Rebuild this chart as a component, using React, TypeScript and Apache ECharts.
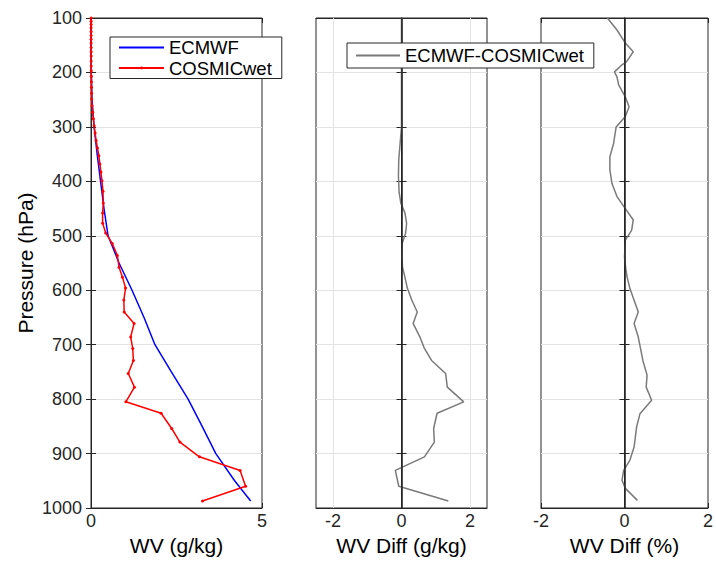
import React, { useEffect, useRef } from "react";
import * as echarts from "echarts";

// ---------- data ----------
const pressureTicks = [100, 200, 300, 400, 500, 600, 700, 800, 900, 1000];

const ecmwfP = [100, 150, 200, 250, 300, 350, 400, 450, 500, 550, 600, 650, 700, 750, 800, 850, 900, 950, 987];
const ecmwfWV = [0.002, 0.003, 0.01, 0.03, 0.09, 0.18, 0.28, 0.38, 0.5, 0.82, 1.2, 1.55, 1.87, 2.35, 2.84, 3.25, 3.65, 4.2, 4.67];

const cosmicP = [100, 106, 112, 118, 125, 132, 139, 146, 154, 162, 170, 179, 188, 197, 207, 217, 227, 238, 249, 261, 273, 285, 298, 311, 325, 339, 353, 368, 383, 399, 418, 440, 458, 477, 495, 514, 536, 558, 576, 596, 618, 640, 661, 686, 707, 729, 753, 778, 805, 826, 854, 879, 906, 931, 960, 987];
const cosmicWV = [0.003, 0.003, 0.003, 0.003, 0.003, 0.003, 0.003, 0.003, 0.004, 0.004, 0.005, 0.005, 0.006, 0.007, 0.009, 0.011, 0.013, 0.016, 0.02, 0.03, 0.05, 0.07, 0.09, 0.12, 0.15, 0.19, 0.23, 0.26, 0.29, 0.32, 0.35, 0.36, 0.34, 0.34, 0.43, 0.62, 0.77, 0.82, 0.92, 1.01, 0.96, 0.97, 1.26, 1.16, 1.22, 1.24, 1.09, 1.27, 1.02, 2.05, 2.36, 2.6, 3.17, 4.36, 4.52, 3.26];

const diffP = [100, 150, 200, 250, 300, 330, 360, 390, 420, 440, 458, 477, 495, 514, 536, 558, 576, 596, 618, 640, 661, 686, 707, 729, 753, 778, 805, 826, 854, 879, 906, 931, 960, 987];
const diffGkg = [0, 0, 0, 0, 0, -0.04, -0.08, -0.09, -0.07, -0.02, 0.1, 0.15, 0.12, 0.02, 0.01, 0.03, 0.1, 0.17, 0.3, 0.46, 0.34, 0.54, 0.67, 0.88, 1.29, 1.34, 1.82, 1.04, 0.94, 0.96, 0.67, -0.18, -0.08, 1.37];

const pctP = [100, 122, 146, 162, 180, 186, 199, 208, 223, 245, 263, 281, 300, 330, 355, 379, 404, 428, 450, 471, 490, 508, 539, 560, 575, 597, 640, 661, 686, 729, 756, 778, 802, 827, 851, 888, 912, 931, 949, 964, 986];
const diffPct = [-0.41, -0.18, 0.02, 0.21, 0.05, -0.06, -0.24, -0.18, -0.14, 0.02, 0.11, 0.02, -0.2, -0.26, -0.35, -0.35, -0.3, -0.18, 0.02, 0.21, 0.17, 0.02, 0.0, 0.03, 0.06, 0.13, 0.33, 0.23, 0.33, 0.44, 0.54, 0.52, 0.65, 0.37, 0.29, 0.23, 0.13, -0.02, -0.06, 0.02, 0.31];

const xTicksWV = [0, 5];
const xTicksDiff = [-2, 0, 2];
const xTicksPct = [-2, 0, 2];

const legendLeft = ["ECMWF", "COSMICwet"];
const legendMid = ["ECMWF-COSMICwet"];

// ---------- styling ----------
const FONT = "Liberation Sans, Arial, Helvetica, sans-serif";
const AXIS = "#262626";
const GRIDC = "#e3e3e3";
// small dot inside a larger (invisible) bounding box, so the legend dot stays small
const DOT = "path://M0,0L0,0M12,12L12,12M4.5,6A1.5,1.5 0 1 1 7.5,6A1.5,1.5 0 1 1 4.5,6Z";

const pair = (xs: number[], ps: number[]) => xs.map((x, i) => [x, ps[i]]);

export default function App() {
  const ref = useRef<HTMLDivElement>(null);
  useEffect(() => {
    if (!ref.current) return;
    const chart = echarts.init(ref.current, null, { renderer: "svg" });

    const grids = [
      { left: 91, top: 18, width: 171, height: 490 },
      { left: 316, top: 18, width: 171, height: 490 },
      { left: 541, top: 18, width: 171, height: 490 },
    ].map((g) => ({ ...g, show: true, borderColor: AXIS, borderWidth: 1, backgroundColor: "transparent" }));

    const ranges = [
      { min: 0, max: 5, ticks: xTicksWV, name: "WV (g/kg)" },
      { min: -2.5, max: 2.5, ticks: xTicksDiff, name: "WV Diff (g/kg)" },
      { min: -2, max: 2, ticks: xTicksPct, name: "WV Diff (%)" },
    ];

    const xAxes: any[] = [];
    ranges.forEach((r, i) => {
      xAxes.push({
        type: "value",
        gridIndex: i,
        position: "bottom",
        min: r.min,
        max: r.max,
        name: r.name,
        nameLocation: "middle",
        nameGap: 27,
        nameTextStyle: { fontSize: 21, color: "#000", fontFamily: FONT },
        axisLine: { show: true, lineStyle: { color: AXIS } },
        axisTick: { show: true, inside: true, length: 5, customValues: r.ticks, lineStyle: { color: AXIS } },
        axisLabel: { show: true, customValues: r.ticks, fontSize: 18, color: AXIS, fontFamily: FONT, margin: 4, showMinLabel: true, showMaxLabel: true, formatter: (v: number) => String(v) },
        splitLine: { show: false },
      });
    });
    ranges.forEach((r, i) => {
      xAxes.push({
        type: "value",
        gridIndex: i,
        position: "top",
        min: r.min,
        max: r.max,
        axisLine: { show: true, lineStyle: { color: AXIS } },
        axisTick: { show: true, inside: true, length: 5, customValues: r.ticks, lineStyle: { color: AXIS } },
        axisLabel: { show: false },
        splitLine: { show: false },
      });
    });

    const yAxes: any[] = [];
    [0, 1, 2].forEach((i) => {
      yAxes.push({
        type: "value",
        gridIndex: i,
        position: "left",
        inverse: true,
        min: pressureTicks[0],
        max: pressureTicks[pressureTicks.length - 1],
        interval: 100,
        name: i === 0 ? "Pressure (hPa)" : "",
        nameLocation: "middle",
        nameGap: 55,
        nameTextStyle: { fontSize: 21, color: "#000", fontFamily: FONT },
        axisLine: { show: true, lineStyle: { color: AXIS } },
        axisTick: { show: true, inside: true, length: 5, lineStyle: { color: AXIS } },
        axisLabel: { show: i === 0, fontSize: 18, color: AXIS, fontFamily: FONT, margin: 9, formatter: (v: number) => String(v) },
        splitLine: { show: true, lineStyle: { color: GRIDC, width: 1 } },
      });
    });
    [0, 1, 2].forEach((i) => {
      yAxes.push({
        type: "value",
        gridIndex: i,
        position: "right",
        inverse: true,
        min: pressureTicks[0],
        max: pressureTicks[pressureTicks.length - 1],
        interval: 100,
        axisLine: { show: true, lineStyle: { color: AXIS } },
        axisTick: { show: true, inside: true, length: 5, lineStyle: { color: AXIS } },
        axisLabel: { show: false },
        splitLine: { show: false },
      });
    });

    const vLine = (x: number, color: string, width: number) => ({
      xAxis: x,
      lineStyle: { color, width, type: "solid" },
    });

    const legendText = { fontSize: 18.5, color: "#000", fontFamily: FONT };

    const option: any = {
      animation: false,
      backgroundColor: "#fff",
      textStyle: { fontFamily: FONT },
      grid: grids,
      xAxis: xAxes,
      yAxis: yAxes,
      legend: [
        {
          data: legendLeft,
          orient: "vertical",
          left: 110,
          top: 37,
          z: 20,
          padding: [1, 10, 1, 8],
          itemGap: 1.5,
          itemWidth: 45,
          itemHeight: 14,
          borderColor: AXIS,
          borderWidth: 1,
          borderRadius: 0,
          backgroundColor: "#fff",
          textStyle: legendText,
          selectedMode: false,
        },
        {
          data: legendMid,
          orient: "vertical",
          left: 347,
          top: 43,
          z: 20,
          padding: [3, 10, 3, 8],
          itemWidth: 44,
          itemHeight: 14,
          borderColor: AXIS,
          borderWidth: 1,
          borderRadius: 0,
          backgroundColor: "#fff",
          textStyle: legendText,
          selectedMode: false,
        },
      ],
      series: [
        {
          name: "ECMWF",
          type: "line",
          xAxisIndex: 0,
          yAxisIndex: 0,
          data: pair(ecmwfWV, ecmwfP),
          showSymbol: false,
          symbol: "line",
          lineStyle: { color: "#0000ff", width: 1.5 },
          itemStyle: { color: "#0000ff" },
          z: 3,
        },
        {
          name: "COSMICwet",
          type: "line",
          xAxisIndex: 0,
          yAxisIndex: 0,
          data: pair(cosmicWV, cosmicP),
          symbol: DOT,
          symbolSize: 12,
          lineStyle: { color: "#ff0000", width: 1.5 },
          itemStyle: { color: "#ff0000", borderWidth: 0 },
          z: 4,
        },
        {
          name: "ECMWF-COSMICwet",
          type: "line",
          xAxisIndex: 1,
          yAxisIndex: 1,
          data: pair(diffGkg, diffP),
          showSymbol: false,
          symbol: "line",
          lineStyle: { color: "#7a7a7a", width: 1.5 },
          itemStyle: { color: "#7a7a7a" },
          z: 4,
          markLine: {
            silent: true,
            symbol: "none",
            label: { show: false },
            animation: false,
            data: [vLine(-2, GRIDC, 1), vLine(2, GRIDC, 1), vLine(0, AXIS, 1.6)],
          },
        },
        {
          name: "pct",
          type: "line",
          xAxisIndex: 2,
          yAxisIndex: 2,
          data: pair(diffPct, pctP),
          showSymbol: false,
          symbol: "none",
          lineStyle: { color: "#7a7a7a", width: 1.5 },
          itemStyle: { color: "#7a7a7a" },
          z: 4,
          markLine: {
            silent: true,
            symbol: "none",
            label: { show: false },
            animation: false,
            data: [vLine(0, AXIS, 1.6)],
          },
        },
      ],
    };
    chart.setOption(option);
    return () => chart.dispose();
  }, []);
  return <div ref={ref} style={{ position: "fixed", left: 0, top: 0, width: 716, height: 561 }} />;
}
